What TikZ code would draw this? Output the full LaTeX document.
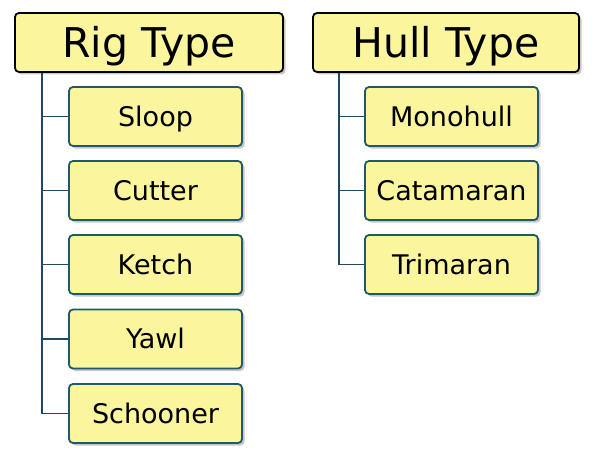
\documentclass[tikz,border=0pt]{standalone}
\usepackage{fontspec}
\setmainfont{DejaVu Sans}
\usetikzlibrary{shadows}
\definecolor{boxfill}{HTML}{FBF59E}
\definecolor{childedge}{HTML}{1E5A6A}
\definecolor{linkcol}{HTML}{1E4A66}
\tikzset{
  header/.style={draw=black, line width=1.8pt, fill=boxfill, rounded corners=4pt,
    minimum width=268pt, minimum height=59pt, inner sep=0pt,
    text height=30pt, text depth=0pt,
    font=\fontsize{41}{41}\selectfont,
    drop shadow={shadow xshift=2.5pt, shadow yshift=-2.5pt, opacity=0.45}},
  child/.style={draw=childedge, line width=1.8pt, fill=boxfill, rounded corners=4pt,
    minimum width=173pt, minimum height=59pt, inner sep=0pt,
    text height=19.7pt, text depth=0pt,
    font=\fontsize{27}{27}\selectfont,
    drop shadow={shadow xshift=2.5pt, shadow yshift=-2.5pt, opacity=0.45}},
  link/.style={draw=linkcol, line width=1.6pt}
}
\begin{document}
\begin{tikzpicture}[x=1pt,y=-1pt]
\useasboundingbox (0,0) rectangle (600,460);
\node[header] (rig) at (149,42.5) {Rig Type};
\node[header, minimum width=266pt] (hull) at (446,42.5) {Hull Type};
\node[child] (sloop) at (155.5,116.5) {Sloop};
\node[child] (cutter) at (155.5,190.5) {Cutter};
\node[child] (ketch) at (155.5,264.5) {Ketch};
\node[child] (yawl) at (155.5,339) {Yawl};
\node[child] (schooner) at (155.5,413.5) {Schooner};
\node[child] (mono) at (451.5,116.5) {Monohull};
\node[child] (cata) at (451.5,190.5) {Catamaran};
\node[child] (tri) at (451.5,264.5) {Trimaran};
\coordinate (rigtop) at (42,0 |- rig.south);
\coordinate (hulltop) at (339,0 |- hull.south);
\foreach \c in {sloop,cutter,ketch,yawl} {
  \draw[link] (rigtop |- \c.west) -- (\c.west);
}
\draw[link] (rigtop) -- (rigtop |- schooner.west) -- (schooner.west);
\foreach \c in {mono,cata} {
  \draw[link] (hulltop |- \c.west) -- (\c.west);
}
\draw[link] (hulltop) -- (hulltop |- tri.west) -- (tri.west);
\end{tikzpicture}
\end{document}
